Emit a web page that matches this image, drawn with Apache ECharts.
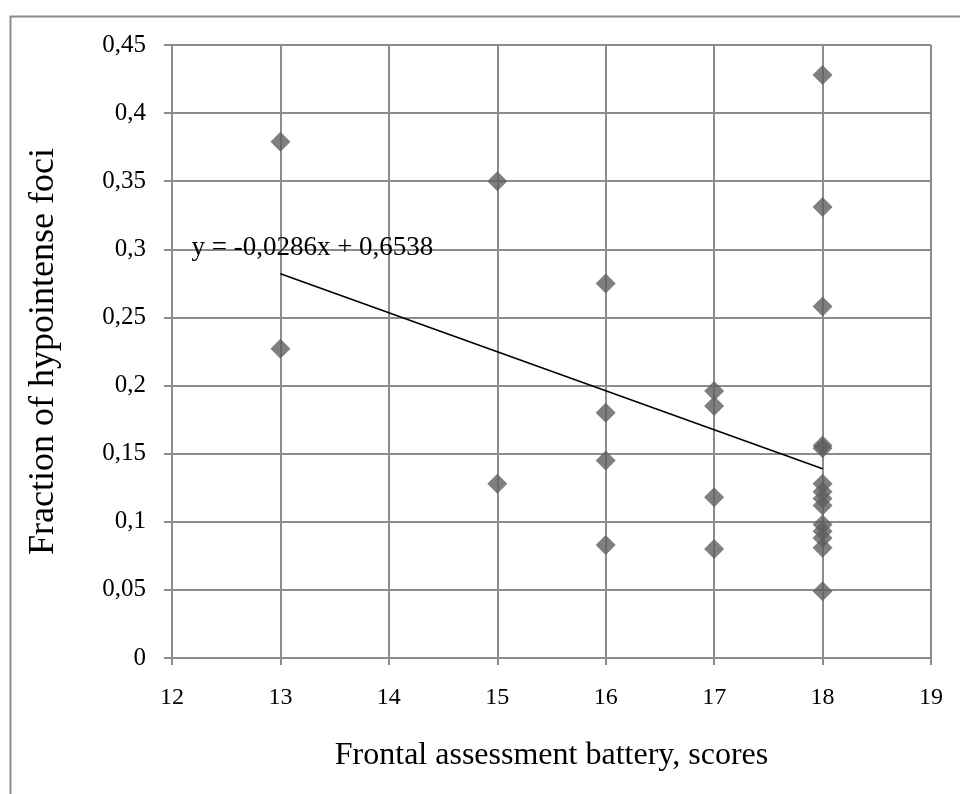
<!DOCTYPE html>
<html>
<head>
<meta charset="utf-8">
<script src="https://cdn.jsdelivr.net/npm/echarts@6/dist/echarts.min.js"></script>
<style>
  html, body { margin: 0; padding: 0; background: #ffffff; }
  #chart { width: 960px; height: 794px; }
</style>
</head>
<body>
<div id="chart"></div>
<script>
// FAB scores and fraction of hypointense foci, one entry per patient
const fabScores = [
  13, 13,
  15, 15,
  16, 16, 16, 16,
  17, 17, 17, 17,
  18, 18, 18, 18, 18, 18, 18, 18, 18, 18, 18, 18, 18, 18
];
const hypoFraction = [
  0.379, 0.227,
  0.350, 0.128,
  0.275, 0.180, 0.145, 0.083,
  0.196, 0.185, 0.118, 0.080,
  0.428, 0.331, 0.258, 0.156, 0.154, 0.128, 0.122, 0.117, 0.112,
  0.098, 0.093, 0.088, 0.081, 0.049
];

// Linear trend: y = slope * x + intercept
const trendSlope = -0.0286;
const trendIntercept = 0.6538;
const trendLabel = 'y = -0,0286x + 0,6538';

// Axis ranges and tick labels
const xTicks = [12, 13, 14, 15, 16, 17, 18, 19];
const yTicks = ['0', '0,05', '0,1', '0,15', '0,2', '0,25', '0,3', '0,35', '0,4', '0,45'];

const xTitle = 'Frontal assessment battery, scores';
const yTitle = 'Fraction of hypointense foci';

const points = fabScores.map((x, i) => [x, hypoFraction[i]]);
const xMinData = Math.min(...fabScores);
const xMaxData = Math.max(...fabScores);
const trendLine = [xMinData, xMaxData].map(x => [x, trendSlope * x + trendIntercept]);

const gridColor = '#8c8c8c';
const font = '"Liberation Serif", "DejaVu Serif", serif';

const chart = echarts.init(document.getElementById('chart'), null, { renderer: 'canvas' });

chart.setOption({
  animation: false,
  backgroundColor: '#ffffff',
  textStyle: { fontFamily: font },
  graphic: [{
    type: 'rect',
    shape: { x: 10.5, y: 16.5, width: 1000, height: 1000 },
    style: { fill: 'none', stroke: '#8c8c8c', lineWidth: 2 },
    silent: true
  }],
  grid: { left: 172, right: 29, top: 45, bottom: 136 },
  xAxis: {
    type: 'value',
    min: xTicks[0],
    max: xTicks[xTicks.length - 1],
    interval: 1,
    name: xTitle,
    nameLocation: 'middle',
    nameGap: 82,
    nameTextStyle: { fontFamily: font, fontSize: 32, color: '#000' },
    axisLine: { show: true, onZero: false, lineStyle: { color: gridColor, width: 2 } },
    axisTick: { show: true, length: 7, lineStyle: { color: gridColor, width: 2 } },
    axisLabel: { fontFamily: font, fontSize: 24, color: '#000', margin: 28 },
    splitLine: { show: true, lineStyle: { color: gridColor, width: 2 } }
  },
  yAxis: {
    type: 'value',
    min: 0,
    max: 0.45,
    interval: 0.05,
    name: yTitle,
    nameLocation: 'middle',
    nameGap: 110,
    nameTextStyle: { fontFamily: font, fontSize: 36, color: '#000' },
    axisLine: { show: true, lineStyle: { color: gridColor, width: 2 } },
    axisTick: { show: true, length: 8, lineStyle: { color: gridColor, width: 2 } },
    axisLabel: {
      fontFamily: font, fontSize: 25, color: '#000', margin: 26,
      formatter: (v) => yTicks[Math.round(v / 0.05)]
    },
    splitLine: { show: true, lineStyle: { color: gridColor, width: 2 } }
  },
  series: [
    {
      type: 'line',
      data: trendLine,
      showSymbol: false,
      symbol: 'none',
      lineStyle: { color: '#000', width: 1.6 },
      z: 3,
      markPoint: {
        symbol: 'circle',
        symbolSize: 0,
        data: [{ coord: trendLine[0] }],
        label: {
          show: true,
          formatter: trendLabel,
          position: 'inside',
          align: 'left',
          verticalAlign: 'middle',
          offset: [-89, -26],
          fontFamily: font,
          fontSize: 27,
          color: '#000'
        }
      }
    },
    {
      type: 'scatter',
      data: points,
      symbol: 'diamond',
      symbolSize: [20, 20],
      itemStyle: { color: '#5f5f5f' },
      z: 4
    }
  ]
});
</script>
</body>
</html>
